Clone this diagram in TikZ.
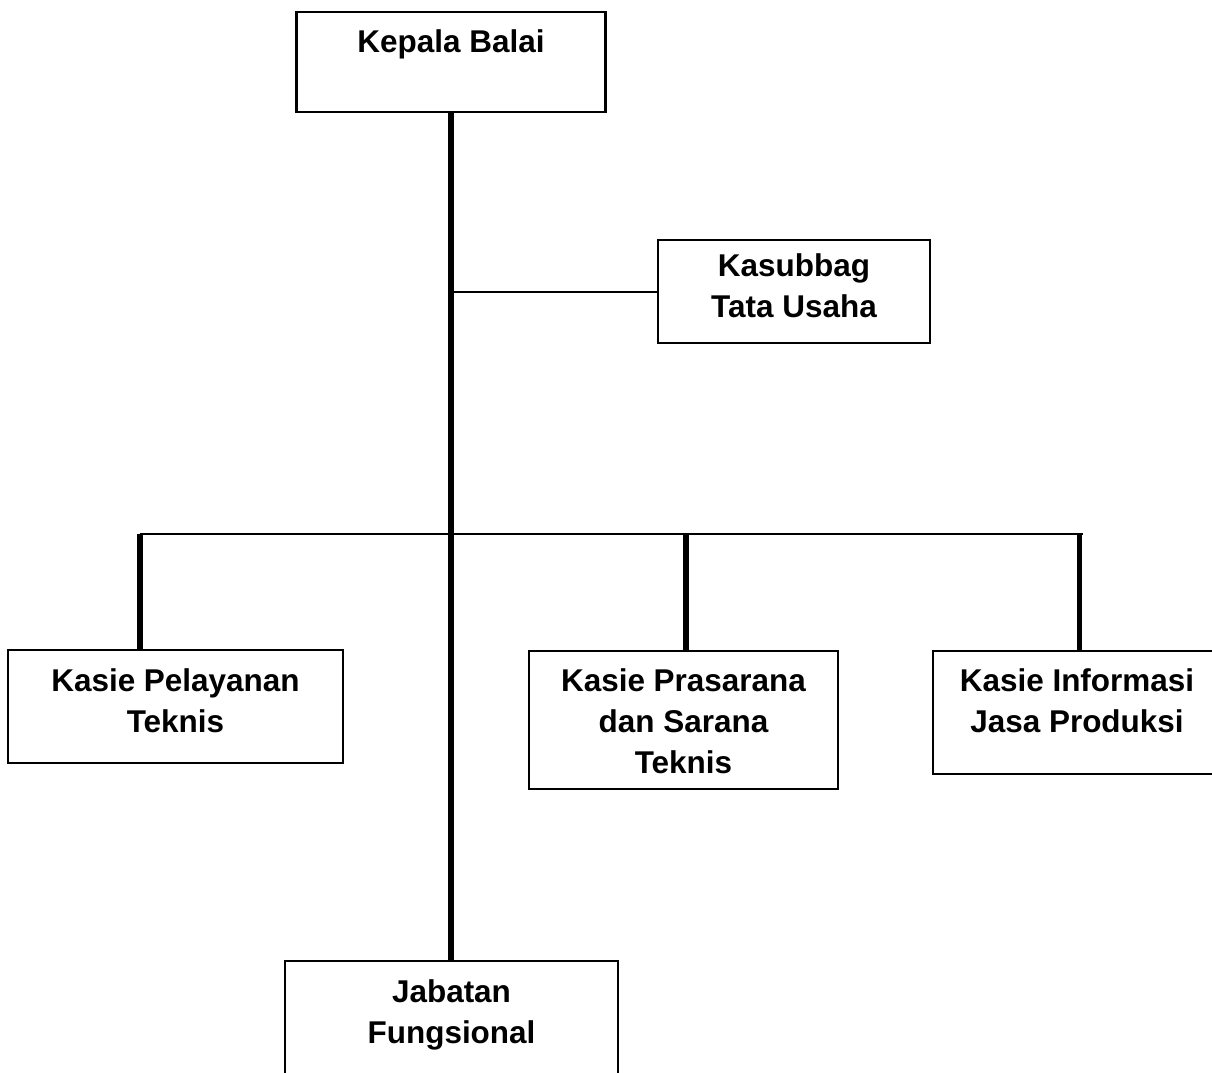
\documentclass[tikz,border=0pt]{standalone}
\usepackage{fontspec}
\setmainfont{Liberation Sans}
\usetikzlibrary{positioning}
\tikzset{
  box/.style={draw=black, line width=1.7pt, inner sep=0pt},
  boxtext/.style={align=center, inner sep=0pt, font=\bfseries\fontsize{23.6pt}{30.75pt}\selectfont},
  thinline/.style={line width=1.5pt},
  thickline/.style={line width=4.2pt}
}

\begin{document}
\begin{tikzpicture}[x=0.75pt, y=-0.75pt]
\clip (0,0) rectangle (1212,1072);
% boxes
\node[box, minimum width=231.75pt, minimum height=75pt] (kepala) at (451,62) {};
\node[box, minimum width=204pt, minimum height=77.25pt] (kasubbag) at (794,291.5) {};
\node[box, minimum width=251.25pt, minimum height=84.75pt] (pelayanan) at (175.5,706.5) {};
\node[box, minimum width=231.75pt, minimum height=103.5pt] (prasarana) at (683.5,720) {};
\node[box, minimum width=216pt, minimum height=92.25pt] (informasi) at (1077,712.5) {};
\node[box, minimum width=249.75pt, minimum height=87pt] (jabatan) at (451.5,1019) {};
% texts
\node[boxtext, below=13.8pt of kepala.north] (kepala-t) {Kepala Balai};
\node[boxtext, below=10.8pt of kasubbag.north] (kasubbag-t) {Kasubbag\\Tata Usaha};
\node[boxtext, below=14.6pt of pelayanan.north] (pelayanan-t) {Kasie Pelayanan\\Teknis};
\node[boxtext, below=13.8pt of prasarana.north] (prasarana-t) {Kasie Prasarana\\dan Sarana\\Teknis};
\node[boxtext, below=13.8pt of informasi.north] (informasi-t) {Kasie Informasi\\Jasa Produksi};
\node[boxtext, below=14.6pt of jabatan.north] (jabatan-t) {Jabatan\\Fungsional};
% bar
\coordinate (bar-l) at (140,533.5);
\coordinate (bar-m) at (686,533.5);
\coordinate (bar-r) at (1079.5,533.5);
\coordinate (bar-e) at (1083,533.5);
% lines
\draw[thickline] (kepala.south) -- (kepala.south |- jabatan.north);
\draw[thinline] (kasubbag.west) -- (kasubbag.west -| kepala.south);
\draw[thinline] (bar-l) -- (bar-e);
\draw[thickline] (bar-l) -- (bar-l |- pelayanan.north);
\draw[thickline] (bar-m) -- (bar-m |- prasarana.north);
\draw[thickline] (bar-r) -- (bar-r |- informasi.north);
\end{tikzpicture}
\end{document}
